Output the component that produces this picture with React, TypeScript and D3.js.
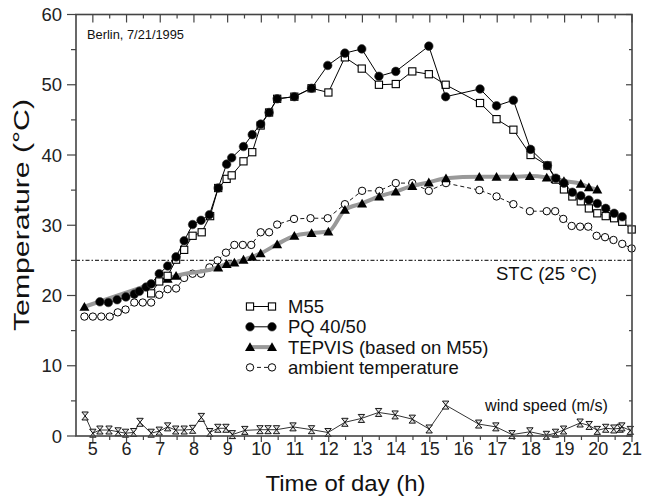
import React from "react";
import * as d3 from "d3";

// ---- data ----
const m55Hours = [6.73, 6.97, 7.22, 7.47, 7.71, 7.96, 8.23, 8.48, 8.72, 8.97, 9.12, 9.47, 9.73, 9.98, 10.23, 10.47, 10.98, 11.49, 11.99, 12.48, 12.98, 13.49, 13.99, 14.48, 14.97, 15.47, 16.49, 16.98, 17.48, 17.99, 18.49, 18.74, 18.98, 19.23, 19.48, 19.72, 19.97, 20.22, 20.47, 20.71, 20.99];
const m55Temps = [20.3, 22.0, 22.8, 25.1, 26.5, 28.5, 29.0, 31.3, 35.3, 36.6, 37.1, 39.1, 40.4, 44.2, 46.05, 48.0, 48.3, 49.5, 48.9, 53.9, 52.3, 50.0, 50.1, 51.9, 51.5, 50.0, 47.4, 45.1, 43.6, 40.0, 38.5, 36.5, 35.1, 34.1, 33.4, 32.4, 31.7, 31.3, 31.0, 30.5, 29.4];

const pqHours = [5.21, 5.46, 5.72, 5.98, 6.23, 6.38, 6.58, 6.73, 6.97, 7.22, 7.47, 7.71, 7.96, 8.21, 8.46, 8.72, 8.97, 9.12, 9.47, 9.73, 9.98, 10.23, 10.47, 10.98, 11.49, 11.97, 12.48, 12.98, 13.49, 13.99, 14.97, 15.47, 16.49, 16.98, 17.48, 17.99, 18.49, 18.74, 18.98, 19.23, 19.48, 19.72, 19.97, 20.22, 20.47, 20.71];
const pqTemps = [19.1, 19.0, 19.4, 19.8, 20.2, 20.6, 21.2, 21.65, 23.1, 24.2, 25.5, 27.8, 30.1, 30.7, 31.5, 35.3, 38.7, 39.6, 41.2, 42.9, 44.4, 46.05, 48.0, 48.3, 49.5, 52.75, 54.5, 55.1, 51.2, 51.9, 55.5, 48.3, 49.4, 47.0, 47.8, 40.8, 38.5, 36.7, 36.0, 34.7, 34.2, 33.6, 33.1, 32.4, 31.7, 31.2];

const tepHours = [4.75, 7.22, 7.47, 8.72, 8.97, 9.2, 9.47, 9.73, 9.98, 10.47, 10.98, 11.49, 11.99, 12.48, 12.99, 13.5, 13.99, 14.48, 14.97, 15.48, 16.47, 16.98, 17.48, 17.97, 18.47, 18.73, 18.98, 19.48, 19.72, 19.97];
const tepTemps = [18.4, 22.4, 22.8, 24.0, 24.5, 24.7, 25.1, 25.5, 26.0, 27.3, 28.5, 28.9, 29.1, 32.2, 33.1, 34.1, 34.8, 35.6, 36.1, 36.7, 36.9, 36.9, 36.9, 37.0, 36.8, 36.6, 36.3, 35.9, 35.4, 35.1];

const ambHours = [4.75, 5.0, 5.25, 5.5, 5.74, 5.97, 6.23, 6.48, 6.73, 6.97, 7.22, 7.47, 7.71, 7.96, 8.21, 8.46, 8.7, 8.95, 9.2, 9.45, 9.7, 9.98, 10.23, 10.47, 10.97, 11.46, 11.97, 12.48, 12.99, 13.5, 13.99, 14.48, 14.97, 15.48, 16.47, 16.98, 17.48, 17.97, 18.47, 18.72, 18.96, 19.21, 19.46, 19.7, 19.95, 20.2, 20.45, 20.71, 20.99];
const ambTemps = [17.0, 17.0, 17.0, 17.0, 17.6, 18.0, 19.0, 19.0, 19.0, 20.1, 20.9, 21.0, 22.5, 23.1, 23.1, 24.0, 25.0, 26.1, 27.2, 27.2, 27.2, 29.0, 29.0, 30.1, 30.9, 31.0, 31.0, 33.0, 34.9, 34.9, 36.0, 36.0, 34.9, 36.0, 35.0, 34.1, 33.0, 32.0, 32.0, 32.0, 30.9, 29.9, 29.8, 29.8, 28.5, 28.3, 27.9, 27.35, 26.7];

const windHours = [4.77, 5.0, 5.21, 5.48, 5.75, 5.97, 6.21, 6.4, 6.73, 6.97, 7.22, 7.46, 7.71, 7.96, 8.22, 8.47, 8.71, 8.95, 9.14, 9.51, 9.96, 10.2, 10.45, 10.94, 11.49, 11.98, 12.48, 12.97, 13.48, 13.97, 14.48, 14.98, 15.47, 16.45, 16.96, 17.44, 17.97, 18.46, 18.73, 18.97, 19.46, 19.73, 19.97, 20.22, 20.46, 20.65, 20.7, 20.95];
const windSpeeds = [2.85, 0.4, 0.85, 0.85, 0.6, 0.4, 0.5, 1.95, 0.4, 0.7, 1.3, 0.85, 0.85, 0.95, 2.65, 0.5, 1.1, 1.1, 0.2, 0.8, 0.9, 0.9, 0.9, 1.3, 0.9, 0.5, 1.95, 2.5, 3.35, 3.0, 2.4, 1.0, 4.4, 1.7, 1.3, 0.2, 0.6, 0.1, 0.4, 0.85, 1.85, 1.5, 0.8, 1.1, 1.0, 1.1, 1.3, 0.8];

const xTickHours = [5, 6, 7, 8, 9, 10, 11, 12, 13, 14, 15, 16, 17, 18, 19, 20, 21];
const yTickTemps = [0, 10, 20, 30, 40, 50, 60];
const stcTemp = 25;

const legendLabels = ["M55", "PQ 40/50", "TEPVIS (based on M55)", "ambient temperature"];

const W = 646, H = 501;
const FONT = "'Liberation Sans', Arial, sans-serif";

function zip(hs: number[], vs: number[]): [number, number][] {
  return hs.map((h, i) => [h, vs[i]]);
}

export default function App() {
  const x = d3.scaleLinear().domain([4.5, 21]).range([76, 632]);
  const y = d3.scaleLinear().domain([0, 60]).range([436, 14.5]);
  const line = d3.line<[number, number]>().x(d => x(d[0])).y(d => y(d[1]));
  const smooth = d3.line<[number, number]>().x(d => x(d[0])).y(d => y(d[1])).curve(d3.curveMonotoneX);

  const m55 = zip(m55Hours, m55Temps);
  const pq = zip(pqHours, pqTemps);
  const tep = zip(tepHours, tepTemps);
  const amb = zip(ambHours, ambTemps);
  const wind = zip(windHours, windSpeeds);

  const halfHours = d3.range(5, 21.01, 0.5);
  const yFives = d3.range(0, 60.01, 5);
  const axisColor = "#444";

  const square = (cx: number, cy: number, key: any) => (
    <rect key={key} x={cx - 3.6} y={cy - 3.6} width={7.2} height={7.2} fill="#fff" stroke="#000" strokeWidth={1.1} />
  );
  const dot = (cx: number, cy: number, key: any) => (
    <circle key={key} cx={cx} cy={cy} r={4.3} fill="#000" stroke="#333" strokeWidth={0.6} />
  );
  const tri = (cx: number, cy: number, key: any) => (
    <path key={key} d={`M${cx},${cy - 4.8}L${cx + 5},${cy + 4}L${cx - 5},${cy + 4}Z`} fill="#000" />
  );
  const ring = (cx: number, cy: number, key: any) => (
    <circle key={key} cx={cx} cy={cy} r={3.7} fill="#fff" stroke="#000" strokeWidth={1} />
  );
  const hourglass = (cx: number, cy: number, key: any) => (
    <path key={key} d={`M${cx - 3.2},${cy - 4}L${cx + 3.2},${cy - 4}L${cx - 3.2},${cy + 4}L${cx + 3.2},${cy + 4}Z`} fill="#ddd" stroke="#000" strokeWidth={0.9} />
  );

  const legendY = [306.5, 326.8, 347.1, 367.4];
  const lx1 = 250, lx2 = 272;

  return (
    <svg width={W} height={H} style={{ position: "absolute", left: 0, top: 0, background: "#fff" }} fontFamily={FONT}>
      <rect x={0} y={0} width={W} height={H} fill="#fff" />
      {/* STC line */}
      <line x1={x(4.5)} x2={x(21)} y1={y(stcTemp)} y2={y(stcTemp)} stroke="#333" strokeWidth={1.2} strokeDasharray="4 2 1.5 2" />

      {/* ambient */}
      <path d={line(amb)!} fill="none" stroke="#000" strokeWidth={0.9} strokeDasharray="4 3" />
      {amb.map((d, i) => ring(x(d[0]), y(d[1]), "a" + i))}

      {/* TEPVIS */}
      <path d={smooth(tep)!} fill="none" stroke="#999" strokeWidth={4} />
      {tep.map((d, i) => tri(x(d[0]), y(d[1]), "t" + i))}

      {/* M55 */}
      <path d={line(m55)!} fill="none" stroke="#000" strokeWidth={1} />
      {m55.map((d, i) => square(x(d[0]), y(d[1]), "m" + i))}

      {/* PQ */}
      <path d={line(pq)!} fill="none" stroke="#000" strokeWidth={1} />
      {pq.map((d, i) => dot(x(d[0]), y(d[1]), "p" + i))}

      {/* wind */}
      <path d={line(wind)!} fill="none" stroke="#000" strokeWidth={0.8} />
      {wind.map((d, i) => hourglass(x(d[0]), y(d[1]), "w" + i))}

      {/* frame */}
      <rect x={x(4.5)} y={y(60)} width={x(21) - x(4.5)} height={y(0) - y(60)} fill="none" stroke={axisColor} strokeWidth={1.6} />

      {/* left ticks */}
      {yFives.map(v => (
        <line key={"yl" + v} x1={x(4.5) - (v % 10 === 0 ? 9 : 5)} x2={x(4.5)} y1={y(v)} y2={y(v)} stroke={axisColor} strokeWidth={1.2} />
      ))}
      {/* right ticks */}
      {yFives.map(v => (
        <line key={"yr" + v} x1={x(21) - (v % 10 === 0 ? 6 : 3)} x2={x(21)} y1={y(v)} y2={y(v)} stroke={axisColor} strokeWidth={1.2} />
      ))}
      {/* bottom ticks */}
      {halfHours.map(h => (
        <line key={"xb" + h} x1={x(h)} x2={x(h)} y1={y(0)} y2={y(0) + (h % 1 === 0 ? 6 : 4)} stroke={axisColor} strokeWidth={1.2} />
      ))}
      {/* top ticks */}
      {halfHours.map(h => (
        <line key={"xt" + h} x1={x(h)} x2={x(h)} y1={y(60)} y2={y(60) + (h % 1 === 0 ? 8 : 4)} stroke={axisColor} strokeWidth={1.2} />
      ))}

      {/* tick labels */}
      {yTickTemps.map(v => (
        <text key={"ylab" + v} x={62} y={y(v) + 6.5} textAnchor="end" fontSize={18.5} fill="#222">{v}</text>
      ))}
      {xTickHours.map(h => (
        <text key={"xlab" + h} x={x(h)} y={455} textAnchor="middle" fontSize={18} fill="#222">{h}</text>
      ))}

      {/* axis titles */}
      <text x={345.5} y={491} textAnchor="middle" fontSize={21.5} fill="#111" textLength={160} lengthAdjust="spacingAndGlyphs">Time of day (h)</text>
      <text transform={`translate(29,215) rotate(-90)`} textAnchor="middle" fontSize={22} fill="#111" textLength={232} lengthAdjust="spacingAndGlyphs">Temperature (°C)</text>

      {/* annotations */}
      <text x={87} y={38.5} fontSize={12} fill="#111" textLength={97} lengthAdjust="spacingAndGlyphs">Berlin, 7/21/1995</text>
      <text x={496} y={280} fontSize={18.5} fill="#111" textLength={101} lengthAdjust="spacingAndGlyphs">STC (25 °C)</text>
      <text x={485} y={411} fontSize={16} fill="#111" textLength={123} lengthAdjust="spacingAndGlyphs">wind speed (m/s)</text>

      {/* legend */}
      {legendLabels.map((lab, i) => {
        const ly = legendY[i];
        let sym: any = null;
        if (i === 0) sym = [<line key="l" x1={lx1} x2={lx2} y1={ly} y2={ly} stroke="#000" strokeWidth={1} />, square(lx1, ly, "s1"), square(lx2, ly, "s2")];
        if (i === 1) sym = [<line key="l" x1={lx1} x2={lx2} y1={ly} y2={ly} stroke="#000" strokeWidth={1} />, dot(lx1, ly, "s1"), dot(lx2, ly, "s2")];
        if (i === 2) sym = [<line key="l" x1={lx1} x2={lx2} y1={ly} y2={ly} stroke="#999" strokeWidth={4} />, tri(lx1, ly, "s1"), tri(lx2, ly, "s2")];
        if (i === 3) sym = [<line key="l" x1={lx1} x2={lx2} y1={ly} y2={ly} stroke="#000" strokeWidth={0.9} strokeDasharray="4 3" />, ring(lx1, ly, "s1"), ring(lx2, ly, "s2")];
        return (
          <g key={"leg" + i}>
            {sym}
            <text x={288} y={ly + 6.5} fontSize={18.5} fill="#111">{lab}</text>
          </g>
        );
      })}
    </svg>
  );
}
